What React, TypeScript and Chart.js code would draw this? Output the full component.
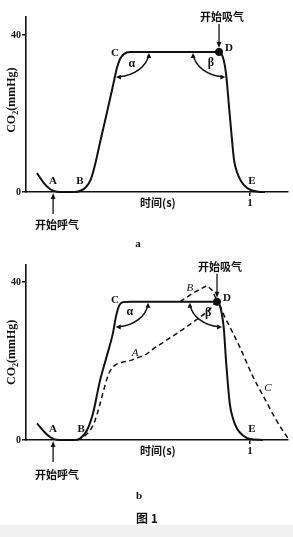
import React, { useEffect, useRef } from "react";
import { Chart, registerables } from "chart.js";
Chart.register(...registerables);

// ---------- Data (time in s, CO2 in mmHg) ----------
// Panel a: normal capnogram
const aSolidX = [0.049, 0.08, 0.107, 0.138, 0.174, 0.219, 0.246, 0.268, 0.29, 0.308, 0.33, 0.362, 0.388, 0.406, 0.42, 0.438, 0.464, 0.862, 0.879, 0.893, 0.906, 0.92, 0.929, 0.942, 0.96, 0.982, 1.009, 1.036, 1.067];
const aSolidY = [4.84, 2.29, 0.76, 0.08, 0, 0, 0.38, 1.27, 3.31, 6.88, 12.5, 20.4, 27.0, 31.6, 33.9, 35.2, 35.7, 35.7, 34.4, 30.3, 22.2, 13.2, 8.2, 5.1, 2.8, 1.27, 0.38, 0.08, 0];
const aPointD = { x: 0.862, y: 35.7 };

// Panel b: normal capnogram + abnormal (dashed) curves
const bSolidX = [0.049, 0.08, 0.107, 0.138, 0.174, 0.219, 0.241, 0.272, 0.299, 0.33, 0.359, 0.388, 0.402, 0.415, 0.433, 0.464, 0.853, 0.871, 0.884, 0.893, 0.902, 0.911, 0.924, 0.942, 0.969, 1.0, 1.058];
const bSolidY = [4.19, 2.16, 0.76, 0.05, 0, 0, 0.38, 2.4, 6.7, 14.9, 20.9, 27.0, 31.3, 33.9, 34.9, 35.0, 35.0, 32.9, 27.8, 20.2, 13.8, 8.8, 5.5, 2.9, 1.14, 0.25, 0];
const bDashAX = [0.228, 0.259, 0.286, 0.308, 0.326, 0.344, 0.362, 0.379, 0.402, 0.429, 0.464, 0.5, 0.531, 0.567, 0.674, 0.777, 0.821, 0.853, 0.888, 0.955, 1.013, 1.058, 1.121, 1.17];
const bDashAY = [0, 0.9, 2.4, 4.9, 8.2, 12.0, 15.6, 17.8, 19.1, 19.7, 20.1, 20.9, 21.5, 23.0, 27.0, 31.1, 33.1, 34.9, 31.1, 23.5, 16.1, 11.3, 4.7, 0.4];
const bDashBX = [0.688, 0.746, 0.808, 0.83, 0.853];
const bDashBY = [35.0, 37.2, 39.1, 38.0, 35.3];
const bPointD = { x: 0.853, y: 35.0 };

const yTicks = [0, 40];
const yTickLabels = ["0", "40"];
const xTicks = [1];
const xTickLabels = ["1"];

const INK = "#111";
const SERIF = '"Liberation Serif", "DejaVu Serif", serif';
const CJK = '"Noto Sans CJK SC", sans-serif';
const LAT = `bold 11px ${SERIF}`;
const GRK = `bold 12px ${SERIF}`;
const ITL = `italic 11px ${SERIF}`;

const toPts = (xs: number[], ys: number[]) => xs.map((x, i) => ({ x, y: ys[i] }));

function arrowHead(ctx: CanvasRenderingContext2D, x: number, y: number, dx: number, dy: number, len = 5, w = 2.4) {
  const n = Math.hypot(dx, dy) || 1;
  const ux = dx / n, uy = dy / n;
  ctx.beginPath();
  ctx.moveTo(x, y);
  ctx.lineTo(x - ux * len - uy * w, y - uy * len + ux * w);
  ctx.lineTo(x - ux * len + uy * w, y - uy * len - ux * w);
  ctx.closePath();
  ctx.fill();
}

const annotPlugin = {
  id: "annot",
  afterDatasetsDraw(chart: any, _args: any, opts: any) {
    const cfg = opts.cfg;
    if (!cfg) return;
    const { ctx } = chart;
    const xs = chart.scales.x, ys = chart.scales.y;
    const px = (v: number) => xs.getPixelForValue(v);
    const py = (v: number) => ys.getPixelForValue(v);
    ctx.save();
    ctx.fillStyle = INK;
    ctx.strokeStyle = INK;
    ctx.textAlign = "center";
    ctx.textBaseline = "middle";

    // point labels
    for (const l of cfg.labels) {
      ctx.font = l.f || LAT;
      ctx.fillText(l.t, px(l.x), py(l.y));
    }

    // angle arcs with arrowheads
    ctx.lineWidth = 1.5;
    for (const a of cfg.arcs) {
      const cx = px(a.cx), cy = py(a.cy);
      const rx = Math.abs(px(a.ex) - cx), ry = Math.abs(py(a.ey) - cy);
      ctx.beginPath();
      if (a.side === "left") {
        ctx.ellipse(cx, cy, rx, ry, 0, 0.12, Math.PI / 2 - 0.12);
        ctx.stroke();
        arrowHead(ctx, cx + rx, cy + 1, 0, -1);
        arrowHead(ctx, cx + 1, cy + ry, -1, 0);
      } else {
        ctx.ellipse(cx, cy, rx, ry, 0, Math.PI / 2 + 0.12, Math.PI - 0.12);
        ctx.stroke();
        arrowHead(ctx, cx - rx, cy + 1, 0, -1);
        arrowHead(ctx, cx - 1, cy + ry, 1, 0);
      }
    }

    // inhale start marker
    const dX = px(cfg.inhale.x), dY = py(cfg.inhale.y);
    ctx.font = `bold 11px ${CJK}`;
    ctx.fillText("开始吸气", dX + 3, dY - 35);
    ctx.lineWidth = 1.3;
    ctx.beginPath();
    ctx.moveTo(dX, dY - 28);
    ctx.lineTo(dX, dY - 8);
    ctx.stroke();
    arrowHead(ctx, dX, dY - 4, 0, 1, 6, 2.4);

    // exhale start marker
    const eX = px(cfg.exhale.x), zY = py(0);
    ctx.beginPath();
    ctx.moveTo(eX, zY + 22);
    ctx.lineTo(eX, zY + 5);
    ctx.stroke();
    arrowHead(ctx, eX, zY + 1, 0, -1, 6, 2.4);
    ctx.fillText("开始呼气", eX + 4, zY + cfg.exhale.dy);

    // x axis title
    ctx.font = `bold 11px ${CJK}`;
    ctx.fillText("时间(s)", px(cfg.xTitleX), zY + 11);

    // y axis title (rotated, with subscript)
    ctx.translate(12, py(cfg.yTitleY));
    ctx.rotate(-Math.PI / 2);
    ctx.textAlign = "left";
    const big = `bold 12px ${SERIF}`, small = `bold 8px ${SERIF}`;
    ctx.font = big;
    const w1 = ctx.measureText("CO").width;
    const w3 = ctx.measureText("(mmHg)").width;
    ctx.font = small;
    const w2 = ctx.measureText("2").width;
    const x0 = -(w1 + w2 + w3) / 2;
    ctx.font = big;
    ctx.fillText("CO", x0, 0);
    ctx.font = small;
    ctx.fillText("2", x0 + w1, 3.5);
    ctx.font = big;
    ctx.fillText("(mmHg)", x0 + w1 + w2, 0);
    ctx.restore();
  },
};

function Panel(props: { top: number; height: number; chartTop: number; xAxisH: number; yMax: number; datasets: any[]; cfg: any }) {
  const ref = useRef<HTMLCanvasElement | null>(null);
  useEffect(() => {
    if (!ref.current) return;
    const tickFont = { family: SERIF, size: 10, weight: "bold" as const };
    const chart = new Chart(ref.current, {
      type: "line",
      data: { datasets: props.datasets },
      options: {
        responsive: false,
        animation: false,
        layout: { padding: { top: props.chartTop, right: 5, left: 0, bottom: 0 } },
        plugins: { legend: { display: false }, tooltip: { enabled: false }, annot: { cfg: props.cfg } } as any,
        elements: { point: { radius: 0 } },
        scales: {
          x: {
            type: "linear",
            min: 0,
            max: 1.17,
            afterBuildTicks: (s: any) => { s.ticks = xTicks.map((v) => ({ value: v })); },
            afterFit: (s: any) => { s.height = props.xAxisH; },
            ticks: {
              callback: (v: any) => xTickLabels[xTicks.indexOf(Number(v))] ?? "",
              font: { ...tickFont, size: 11 },
              color: INK,
              padding: 1,
              maxRotation: 0,
              autoSkip: false,
            },
            grid: { display: true, drawOnChartArea: false, drawTicks: true, tickLength: 4, color: INK, lineWidth: 1.5 },
            border: { display: true, color: INK, width: 1.6 },
          },
          y: {
            type: "linear",
            min: 0,
            max: props.yMax,
            afterBuildTicks: (s: any) => { s.ticks = yTicks.map((v) => ({ value: v })); },
            afterFit: (s: any) => { s.width = 26; },
            ticks: {
              callback: (v: any) => yTickLabels[yTicks.indexOf(Number(v))] ?? "",
              font: tickFont,
              color: INK,
              padding: 1,
              autoSkip: false,
            },
            grid: { display: true, drawOnChartArea: false, drawTicks: true, tickLength: 4, color: INK, lineWidth: 1.5 },
            border: { display: true, color: INK, width: 1.6 },
          },
        },
      },
      plugins: [annotPlugin],
    } as any);
    return () => chart.destroy();
  }, []);
  return (
    <canvas
      ref={ref}
      width={293}
      height={props.height}
      style={{ position: "absolute", left: 0, top: props.top, width: 293, height: props.height }}
    />
  );
}

const solidStyle = { borderColor: INK, borderWidth: 2, pointRadius: 0, fill: false, cubicInterpolationMode: "monotone", clip: false };
const dashStyle = { borderColor: INK, borderWidth: 1.5, borderDash: [5, 3.5], pointRadius: 0, fill: false, clip: false };
const dotStyle = { type: "scatter", borderColor: INK, backgroundColor: INK, pointRadius: 3.6, pointStyle: "circle", showLine: false, clip: false };

const cfgA = {
  labels: [
    { t: "A", x: 0.121, y: 2.8 },
    { t: "B", x: 0.241, y: 2.8 },
    { t: "E", x: 1.009, y: 2.8 },
    { t: "C", x: 0.397, y: 35.4 },
    { t: "D", x: 0.906, y: 36.7 },
    { t: "α", x: 0.473, y: 32.6, f: GRK },
    { t: "β", x: 0.826, y: 32.9, f: GRK },
  ],
  arcs: [
    { side: "left", cx: 0.397, cy: 35.7, ex: 0.549, ey: 29.3 },
    { side: "right", cx: 0.895, cy: 35.7, ex: 0.746, ey: 29.3 },
  ],
  inhale: aPointD,
  exhale: { x: 0.121, dy: 33 },
  xTitleX: 0.589,
  yTitleY: 23.4,
};

const cfgB = {
  labels: [
    { t: "A", x: 0.121, y: 2.67 },
    { t: "B", x: 0.246, y: 2.67 },
    { t: "E", x: 1.009, y: 2.67 },
    { t: "C", x: 0.397, y: 35.4 },
    { t: "D", x: 0.897, y: 35.9 },
    { t: "α", x: 0.464, y: 32.4, f: GRK },
    { t: "β", x: 0.813, y: 32.1, f: GRK },
    { t: "A", x: 0.487, y: 22.0, f: ITL },
    { t: "B", x: 0.732, y: 38.5, f: ITL },
    { t: "C", x: 1.08, y: 13.1, f: ITL },
  ],
  arcs: [
    { side: "left", cx: 0.396, cy: 35.0, ex: 0.545, ey: 28.6 },
    { side: "right", cx: 0.88, cy: 35.0, ex: 0.732, ey: 28.6 },
  ],
  inhale: bPointD,
  exhale: { x: 0.121, dy: 35 },
  xTitleX: 0.589,
  yTitleY: 22.2,
};

export default function App() {
  const dsA = [
    { ...solidStyle, data: toPts(aSolidX, aSolidY) },
    { ...dotStyle, data: [aPointD] },
  ];
  const dsB = [
    { ...dashStyle, cubicInterpolationMode: "monotone", data: toPts(bDashAX, bDashAY) },
    { ...dashStyle, tension: 0, data: toPts(bDashBX, bDashBY) },
    { ...solidStyle, data: toPts(bSolidX, bSolidY) },
    { ...dotStyle, data: [bPointD] },
  ];
  const textStyle: React.CSSProperties = {
    position: "absolute",
    fontFamily: SERIF,
    fontWeight: "bold",
    color: INK,
    textAlign: "center",
    width: 40,
  };
  return (
    <div style={{ position: "absolute", left: 0, top: 0, width: 293, height: 537, background: "#fff", overflow: "hidden" }}>
      <Panel top={0} height={255} chartTop={17} xAxisH={63} yMax={44.6} datasets={dsA} cfg={cfgA} />
      <Panel top={255} height={270} chartTop={10} xAxisH={85} yMax={44.3} datasets={dsB} cfg={cfgB} />
      <div style={{ ...textStyle, left: 118, top: 236, fontSize: 11, lineHeight: "14px" }}>a</div>
      <div style={{ ...textStyle, left: 119, top: 488, fontSize: 11, lineHeight: "14px" }}>b</div>
      <div style={{ ...textStyle, left: 117, top: 510, width: 60, fontSize: 12, lineHeight: "16px", fontFamily: CJK }}>图 1</div>
      <div style={{ position: "absolute", left: 0, top: 525, width: 293, height: 12, background: "#f1f1f1" }} />
    </div>
  );
}
